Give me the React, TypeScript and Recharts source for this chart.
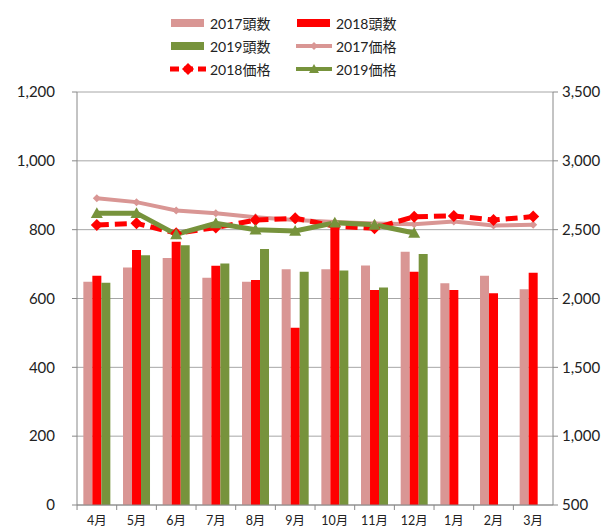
import { ComposedChart, Bar, Line, XAxis, YAxis, CartesianGrid } from "recharts";

const months = ["4月", "5月", "6月", "7月", "8月", "9月", "10月", "11月", "12月", "1月", "2月", "3月"];
const heads2017 = [649, 690, 718, 660, 649, 685, 685, 696, 736, 644, 666, 627];
const heads2018 = [666, 741, 765, 695, 654, 515, 810, 625, 678, 625, 615, 675];
const heads2019 = [646, 726, 755, 702, 744, 678, 681, 632, 729, null, null, null];
const price2017 = [2728, 2700, 2640, 2620, 2590, 2570, 2555, 2545, 2540, 2560, 2530, 2535];
const price2018 = [2534, 2546, 2474, 2515, 2570, 2583, 2525, 2510, 2594, 2600, 2570, 2595];
const price2019 = [2620, 2620, 2466, 2546, 2500, 2490, 2550, 2535, 2476, null, null, null];
const leftTicks = [0, 200, 400, 600, 800, 1000, 1200];
const rightTicks = [500, 1000, 1500, 2000, 2500, 3000, 3500];

const data = months.map((m, i) => ({
  month: m,
  h2017: heads2017[i],
  h2018: heads2018[i],
  h2019: heads2019[i],
  p2017: price2017[i],
  p2018: price2018[i],
  p2019: price2019[i],
}));

const PINK = "#d99694";
const RED = "#ff0000";
const GREEN = "#77933c";
const FONT = "Lato, 'Noto Sans CJK JP', sans-serif";

const fmt = (v: number) => v.toLocaleString("en-US");

const Diamond = (props: any) => {
  const { cx, cy, r = 5, fill } = props;
  if (cx == null || cy == null || props.value == null) return <g key={props.index} />;
  return (
    <path key={props.index} d={`M${cx},${cy - r}L${cx + r},${cy}L${cx},${cy + r}L${cx - r},${cy}Z`} fill={fill} />
  );
};

const Triangle = (props: any) => {
  const { cx, cy, r = 5, fill } = props;
  if (cx == null || cy == null || props.value == null) return <g key={props.index} />;
  return (
    <path key={props.index} d={`M${cx},${cy - r}L${cx + r},${cy + r * 0.8}L${cx - r},${cy + r * 0.8}Z`} fill={fill} />
  );
};

const MonthTick = (props: any) => {
  const { x, y, payload } = props;
  return (
    <g>
      <line x1={x - 19.8} x2={x - 19.8} y1={y - 8} y2={y - 3} stroke="#888" />
      <text x={x} y={y + 12} textAnchor="middle" fontSize={12.5} fill="#222" fontFamily={FONT}>
        {payload.value}
      </text>
    </g>
  );
};

const legendItems = [
  { label: "2017頭数", kind: "bar", color: PINK },
  { label: "2018頭数", kind: "bar", color: RED },
  { label: "2019頭数", kind: "bar", color: GREEN },
  { label: "2017価格", kind: "line", color: PINK },
  { label: "2018価格", kind: "dash", color: RED },
  { label: "2019価格", kind: "tri", color: GREEN },
];

const Swatch = ({ kind, color }: { kind: string; color: string }) => (
  <svg width={36} height={14} style={{ marginRight: 4 }}>
    {kind === "bar" && <rect x={1} y={3} width={33} height={8} fill={color} />}
    {kind === "line" && (
      <g>
        <line x1={0} x2={36} y1={7} y2={7} stroke={color} strokeWidth={4} />
        <path d="M18,3L22,7L18,11L14,7Z" fill={color} />
      </g>
    )}
    {kind === "dash" && (
      <g>
        <line x1={0} x2={36} y1={7} y2={7} stroke={color} strokeWidth={5} strokeDasharray="9 5" />
        <path d="M18,1L24,7L18,13L12,7Z" fill={color} />
      </g>
    )}
    {kind === "tri" && (
      <g>
        <line x1={0} x2={36} y1={7} y2={7} stroke={color} strokeWidth={4} />
        <path d="M18,2L23,11L13,11Z" fill={color} />
      </g>
    )}
  </svg>
);

export default function App() {
  return (
    <div style={{ position: "absolute", left: 0, top: 0, width: 605, height: 531, background: "#fff", overflow: "hidden" }}>
      <div
        style={{
          position: "absolute",
          left: 170,
          top: 16,
          display: "grid",
          gridTemplateColumns: "126px 130px",
          rowGap: 9,
          fontFamily: FONT,
          fontSize: 14,
          color: "#222",
        }}
      >
        {legendItems.map((it) => (
          <div key={it.label} style={{ display: "flex", alignItems: "center", height: 14 }}>
            <Swatch kind={it.kind} color={it.color} />
            <span>{it.label}</span>
          </div>
        ))}
      </div>
      <ComposedChart
        width={605}
        height={531}
        data={data}
        margin={{ top: 92, right: 0, bottom: 0, left: 0 }}
        barCategoryGap="16%"
        barGap={0}
      >
        <CartesianGrid yAxisId="left" vertical={false} stroke="#a6a6a6" />
        <XAxis
          dataKey="month"
          height={26}
          axisLine={{ stroke: "#888" }}
          tickLine={false}
          tick={<MonthTick />}
          interval={0}
        />
        <YAxis
          yAxisId="left"
          width={77}
          domain={[0, 1200]}
          ticks={leftTicks}
          tickFormatter={fmt}
          axisLine={{ stroke: "#888" }}
          tickLine={{ stroke: "#888" }}
          tickSize={5}
          tickMargin={17}
          tick={{ fontSize: 15, fill: "#222", fontFamily: FONT }}
        />
        <YAxis
          yAxisId="right"
          orientation="right"
          width={52}
          domain={[500, 3500]}
          ticks={rightTicks}
          tickFormatter={fmt}
          axisLine={{ stroke: "#888" }}
          tickLine={{ stroke: "#888" }}
          tickSize={5}
          tickMargin={4}
          tick={{ fontSize: 15, fill: "#222", fontFamily: FONT, textAnchor: "start" }}
        />
        <Bar yAxisId="left" dataKey="h2017" fill={PINK} isAnimationActive={false} />
        <Bar yAxisId="left" dataKey="h2018" fill={RED} isAnimationActive={false} />
        <Bar yAxisId="left" dataKey="h2019" fill={GREEN} isAnimationActive={false} />
        <Line
          yAxisId="right"
          dataKey="p2017"
          stroke={PINK}
          strokeWidth={4}
          dot={<Diamond r={4} fill={PINK} />}
          activeDot={false}
          isAnimationActive={false}
        />
        <Line
          yAxisId="right"
          dataKey="p2018"
          stroke={RED}
          strokeWidth={5}
          strokeDasharray="12 6"
          dot={<Diamond r={6} fill={RED} />}
          activeDot={false}
          isAnimationActive={false}
        />
        <Line
          yAxisId="right"
          dataKey="p2019"
          stroke={GREEN}
          strokeWidth={5}
          dot={<Triangle r={6} fill={GREEN} />}
          activeDot={false}
          isAnimationActive={false}
        />
      </ComposedChart>
    </div>
  );
}
